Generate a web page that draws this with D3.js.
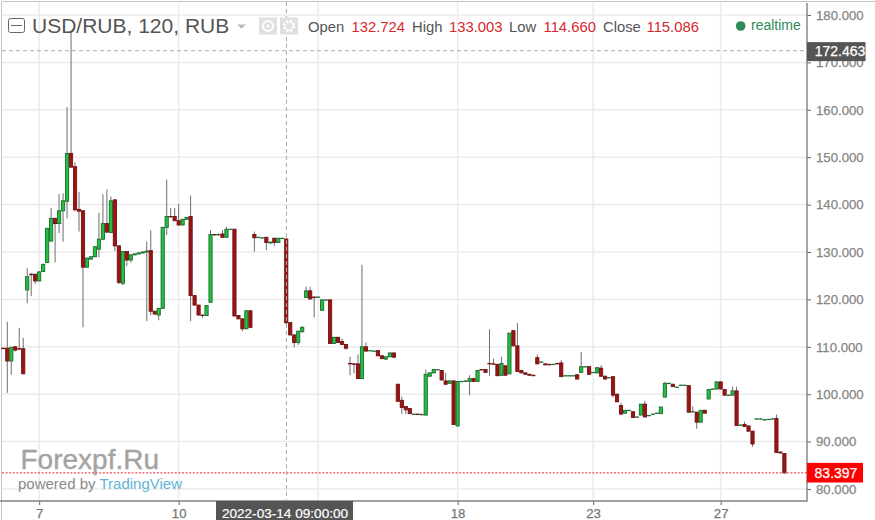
<!DOCTYPE html>
<html><head><meta charset="utf-8">
<script src="https://cdnjs.cloudflare.com/ajax/libs/d3/7.8.5/d3.min.js"></script>
<style>html,body{margin:0;padding:0;background:#fff}svg{display:block}text{font-family:"Liberation Sans",Arial,sans-serif}</style>
</head><body><svg id="c" width="875" height="520"></svg>
<script>
const slots = d3.range(0, 197);
const opens = [109.7,109.7,107,110,109.6,109.6,122,125.3,125.3,123.9,125.9,127.8,132.3,137.1,136,138.7,140.7,150.8,148,139,
138.7,126.8,128.5,129,130.6,132.7,136,134.1,141,131.3,123.4,130.1,128.3,129.4,129.6,129.8,130,130.3,117.5,116.7,
118.1,135.2,137.5,137.5,136.6,135.7,136.9,137.5,120.8,118.8,116.7,116.6,119.4,133.7,133.6,133.8,133.1,134.8,134.8,116.6,
115.9,113.8,117.6,133.7,133.1,133,133.1,131.9,132.9,132,132.9,132.724,115.1,112.5,110.9,113.2,120.4,121.8,120.5,120.5,
117.7,119.9,119.9,110.7,112,111.1,110.5,106.5,106.4,106.4,103.3,110,109.2,109.1,109.2,108.1,107.4,107.9,108.7,102.1,
98.7,97.4,97,95.8,95.8,95.7,95.6,103.8,104.5,105.2,105,102.8,102.3,102.8,93.3,102.7,102.7,102.7,103.3,102.7,
105.2,105.2,106.5,106.4,106.3,104,106,104.3,113.4,110.2,105,104.5,104.2,104,107.7,106.8,106.4,106.3,106.3,106.5,
106.6,103.9,103.9,103.9,104.1,104.6,105.8,105.8,104.6,104.5,105.5,103.8,103.5,103.7,100,97.6,96,96.6,96.3,95.2,
95.6,97.9,95.5,95.8,96,95.9,99.4,102.3,102.1,101.5,101.9,101.9,101.8,96.3,96.2,94.1,96.6,99,101.1,101.1,
102.6,101,99.8,99.8,100.7,93.5,93.6,93.3,92.2,94.8,94.8,94.6,94.7,94.8,94.9,87.8,87.5];
const highs = [109.8,115.3,109.9,110.2,114,111.9,126.6,125.6,125.4,126,127.5,135,139.3,137.2,142.2,142.4,160.6,176.5,148.9,142.7,
138.8,128.8,129.1,131.2,138.3,142.2,143.2,141.7,141.1,131.4,130.2,130.2,129.5,129.7,129.9,130.1,132.2,134.6,117.6,118.2,
135.3,145.3,139.3,139.3,140.1,137,137.4,141.9,120.9,118.9,116.8,118.8,134.6,133.8,133.9,134.6,135.3,134.9,134.9,116.7,
116,117.7,117.7,134.3,133.2,133.1,133.2,132.2,133,133,133,133.003,115.2,112.6,113.4,114.4,122.7,122.7,120.6,120.6,
120,120,120,112.1,112.1,111.7,110.6,107.9,106.6,108.4,127.3,110.9,109.3,109.2,109.3,108.2,108,108.8,108.8,102.2,
99.5,97.5,97.1,95.9,95.9,96,105.2,104.6,105.3,105.3,105.1,104.5,103,103,102.8,102.8,102.9,104,103.4,105,
105.3,105.3,113.7,107.5,106.4,107.9,106.1,112.9,113.5,115,105.1,104.6,104.3,104.1,108.4,106.9,106.5,106.4,106.4,106.6,
107.2,104,104,104,104.2,108.9,105.9,105.9,104.7,105.6,106.1,103.9,103.6,103.8,100.1,98.2,96.1,96.7,96.4,95.3,
97.9,98.6,95.6,95.9,96.1,97.3,102.6,102.4,102.2,101.6,102,102,101.9,97.4,96.3,96.6,96.7,101,101.2,102.6,
102.7,101.1,99.9,101.6,101.6,93.6,94.2,93.4,92.3,94.9,94.9,94.7,94.8,94.9,95.7,87.9,87.6];
const lows = [109.6,100.3,104.1,109,109.4,104.3,119.2,120.7,123.3,123.8,125.8,127.8,132.3,127.8,134,132.2,137.1,147.8,138.6,134.3,
114.1,126.7,128.4,128.9,128.9,132.6,134,134,130.2,123.2,123,127,127.8,129.3,129.5,129.7,115.4,116.7,116.8,115.6,
118,133.6,137.3,136.5,135.6,135.6,136.8,115.4,118.7,116.6,116.1,116.5,119.3,133.5,133.5,133,133,134.7,116.4,115.8,
113.3,113.7,114,130.1,133,132.9,130.4,131.8,131.3,131.9,132.8,114.66,112.4,109.9,110.4,112.9,120.3,119.9,116.2,120.4,
117.6,119.8,110.6,110.6,110.8,110.4,109.4,104,104.4,103.2,103.2,109,109.1,109,108,107.4,107.3,107.8,107.7,98.4,
95.8,95.8,95.8,95.7,95.6,95.6,95.5,103.7,104.4,105.1,102.9,102,102.2,93.5,93.2,102.6,102.6,99.8,102.6,102.6,
105.1,104.5,103.9,106.3,103.8,103.9,103.9,104.2,110.1,104.7,104.4,104.1,103.9,103.8,106.3,106.7,106.1,106.1,106.2,106.3,
103.6,103.8,103.8,103.8,103.1,104.5,105.7,104.1,104.5,104.4,103.7,103.1,103.4,99.3,98.3,95.7,95.9,96.5,95,95.1,
95.5,95.1,95.4,95.7,95.9,95.8,99.3,102.2,101.5,101.4,101.8,101.8,96.1,96.2,92.7,94,95.9,98.9,101,101,
101,99.7,99.7,99.7,93.3,93.4,93.1,92.1,88.9,94.7,94.7,94.5,94.6,94.7,87.6,87.5,83.3];
const closes = [109.6,107,109.9,109.3,109.5,104.3,124.8,125.2,123.9,125.8,127.4,135,137.1,136,138.7,140.8,150.8,147.9,138.9,138.6,
126.8,128.7,129,131.1,132.7,136,134.2,140.8,131.3,123.6,130.1,128.3,129.4,129.6,129.8,130,130.2,117.5,116.9,118.1,
135.2,137.5,137.4,136.6,135.7,136.9,137.3,120.8,118.8,116.7,116.6,118.7,133.7,133.6,133.7,133.1,134.8,134.8,116.5,115.9,
113.8,117.6,114.1,133,133.1,133,132,132.1,132,132.9,132.9,115.086,112.5,110.9,113.3,114.1,121.8,120.1,120.4,120.5,
119.9,119.9,110.7,112,110.9,110.5,109.7,106.4,106.3,103.3,110,109.1,109.2,109.1,108.1,107.5,107.9,108.7,107.8,98.5,
97.2,96.7,95.9,95.8,95.7,95.7,104.2,104.5,105.2,105.2,103,102.1,102.8,93.6,102.7,102.7,102.8,103.3,102.7,105,
105.1,104.6,106.4,106.3,103.9,106.5,104,112.9,110.2,104.8,104.5,104.2,104,103.9,106.4,106.8,106.2,106.2,106.3,106.4,
103.7,103.9,103.9,103.9,103.2,105.8,105.8,104.2,104.6,105.6,103.8,103.2,103.5,99.8,98.4,95.8,96.6,96.6,95.1,95.2,
97.9,95.2,95.5,95.8,96,97.3,102.3,102.3,101.6,101.5,101.9,101.9,96.2,96.3,94.1,96.6,96,101,101.1,102.6,
101.1,99.8,99.8,100.7,93.4,93.5,93.2,92.2,89.5,94.8,94.8,94.6,94.7,94.8,87.7,87.6,83.397];
const priceTicks = [80,90,100,110,120,130,140,150,160,170,180];
const timeSlots = [9,44,79,114,148,180];
const timeLabels = ["7","10","","18","23","27"];
const crosshairSlot = 71, crosshairPrice = 172.463, lastPrice = 83.397;
const crosshairTime = "2022-03-14 09:00:00";
const legendItems = [["Open","132.724"],["High","133.003"],["Low","114.660"],["Close","115.086"]];

const svg = d3.select("#c");
const plotR = 807, plotB = 501;
const x = d3.scaleLinear().domain([0,196]).range([3.3,784.4]);
const y = d3.scaleLinear().domain([80,180]).range([489,15]);
const GREY="#858585";

// frame
svg.append("path").attr("d","M1.5,520V1.5H875").attr("fill","none").attr("stroke","#c4c4c4").attr("stroke-width",1);

// grid
const grid = svg.append("g").attr("stroke","#ebebeb").attr("stroke-width",1.5);
grid.selectAll("line.h").data(priceTicks).join("line").attr("class","h")
  .attr("x1",2).attr("x2",plotR).attr("y1",d=>y(d)).attr("y2",d=>y(d));
grid.selectAll("line.v").data(timeSlots).join("line").attr("class","v")
  .attr("y1",2).attr("y2",plotB).attr("x1",d=>x(d)).attr("x2",d=>x(d));

// axes
const axR = svg.append("g").attr("transform",`translate(${plotR},0)`)
  .call(d3.axisRight(y).tickValues(priceTicks).tickFormat(d3.format(".3f")).tickSize(4).tickPadding(5));
axR.select(".domain").remove();
axR.selectAll("line").attr("stroke","#666");
axR.selectAll("text").attr("font-size",13.2).attr("fill",GREY).attr("stroke",GREY).attr("stroke-width",0.25).attr("font-family","Liberation Sans");
const axB = svg.append("g").attr("transform",`translate(0,${plotB})`)
  .call(d3.axisBottom(x).tickValues(timeSlots).tickFormat((d,i)=>timeLabels[i]).tickSize(4).tickPadding(4));
axB.select(".domain").remove();
axB.selectAll("line").attr("stroke","#666");
axB.selectAll("text").attr("font-size",13.2).attr("fill","#777").attr("stroke","#777").attr("stroke-width",0.25).attr("font-family","Liberation Sans");
svg.append("path").attr("d",`M0,${plotB}H${plotR}V3`).attr("fill","none").attr("stroke","#808080").attr("stroke-width",1.4);

// candles
const candles = slots.map((s,i)=>({s,o:opens[i],h:highs[i],l:lows[i],c:closes[i]}));
const g = svg.append("g");
g.selectAll("line.wick").data(candles).join("line").attr("class","wick")
  .attr("x1",d=>x(d.s)).attr("x2",d=>x(d.s)).attr("y1",d=>y(d.h)).attr("y2",d=>y(d.l))
  .attr("stroke","#6e6e6e").attr("stroke-width",1);
g.selectAll("rect.body").data(candles).join("rect").attr("class","body")
  .attr("x",d=>x(d.s)-1.6).attr("width",3.2)
  .attr("y",d=>Math.min(y(d.o),y(d.c)))
  .attr("height",d=>Math.max(Math.abs(y(d.o)-y(d.c)),0.3))
  .attr("fill",d=>d.c>=d.o?"#21c03f":"#a01212")
  .attr("stroke",d=>d.c>=d.o?"#1c6b30":"#6f1414").attr("stroke-width",0.9);

// price lines
svg.append("line").attr("x1",2).attr("x2",plotR).attr("y1",y(lastPrice)).attr("y2",y(lastPrice))
  .attr("stroke","#e8202c").attr("stroke-width",1).attr("stroke-dasharray","2 1.6");
const ch = svg.append("g").attr("stroke","#a8a8a8").attr("stroke-width",1).attr("stroke-dasharray","4 3");
ch.append("line").attr("x1",2).attr("x2",plotR).attr("y1",y(crosshairPrice)).attr("y2",y(crosshairPrice));
ch.append("line").attr("x1",x(crosshairSlot)+.2).attr("x2",x(crosshairSlot)+.2).attr("y1",2).attr("y2",plotB);

// right labels
svg.append("rect").attr("x",807).attr("y",y(crosshairPrice)-8.6).attr("width",58.5).attr("height",19).attr("fill","#555");
svg.append("text").attr("x",840).attr("y",y(crosshairPrice)+5.4).attr("text-anchor","middle").attr("font-size",14).attr("fill","#fff").attr("stroke","#fff").attr("stroke-width",0.25).text(crosshairPrice.toFixed(3));
svg.append("rect").attr("x",807).attr("y",y(lastPrice)-10).attr("width",56).attr("height",19.6).attr("fill","#ff0000");
svg.append("text").attr("x",836).attr("y",y(lastPrice)+5).attr("text-anchor","middle").attr("font-size",14).attr("fill","#fff").attr("stroke","#fff").attr("stroke-width",0.25).text(lastPrice.toFixed(3));

// crosshair time label
svg.append("rect").attr("x",216).attr("y",plotB).attr("width",137).attr("height",19).attr("fill","#555");
svg.append("text").attr("x",285).attr("y",518).attr("text-anchor","middle").attr("font-size",13.6).attr("fill","#fff").attr("stroke","#fff").attr("stroke-width",0.2).text(crosshairTime);

// header
svg.append("rect").attr("x",8.5).attr("y",18.5).attr("width",16).attr("height",14).attr("rx",2).attr("fill","#fff").attr("stroke","#666").attr("stroke-width",1);
svg.append("line").attr("x1",11).attr("x2",22).attr("y1",25.5).attr("y2",25.5).attr("stroke","#666");
svg.append("text").attr("x",32).attr("y",33).attr("font-size",21).attr("fill","#555").text("USD/RUB, 120, RUB");
svg.append("path").attr("d","M237,24.5H246L241.5,28.8Z").attr("fill","#bbb");
svg.append("rect").attr("x",259).attr("y",17.5).attr("width",18).attr("height",17).attr("fill","#e0e0e0");
svg.append("circle").attr("cx",268).attr("cy",26).attr("r",5).attr("fill","none").attr("stroke","#fff").attr("stroke-width",2);
svg.append("circle").attr("cx",268).attr("cy",26).attr("r",1.6).attr("fill","#fff");
svg.append("rect").attr("x",280).attr("y",17.5).attr("width",18).attr("height",17).attr("fill","#e0e0e0");
svg.append("circle").attr("cx",289).attr("cy",26).attr("r",4.6).attr("fill","none").attr("stroke","#fff").attr("stroke-width",3).attr("stroke-dasharray","2.4 1.2");

const legendX = [[308,351.5],[412,449],[509,543.5],[603,646.5]];
legendItems.forEach(([k,v],i)=>{
  svg.append("text").attr("x",legendX[i][0]).attr("y",32).attr("font-size",14.8).attr("fill","#555").text(k);
  svg.append("text").attr("x",legendX[i][1]).attr("y",32).attr("font-size",14.8).attr("fill","#d9272e").text(v);
});
svg.append("circle").attr("cx",740.7).attr("cy",26).attr("r",4.8).attr("fill","#2e8b57");
svg.append("text").attr("x",751).attr("y",30).attr("font-size",14).attr("fill","#2e8b57").text("realtime");

// watermark
svg.append("text").attr("x",20.5).attr("y",468.5).attr("font-size",28).attr("fill","#a3a3a3").attr("stroke","#a3a3a3").attr("stroke-width",0.4).text("Forexpf.Ru");
const pw = svg.append("text").attr("x",18).attr("y",489).attr("font-size",15).attr("fill","#8a8a8a");
pw.append("tspan").text("powered by ");
pw.append("tspan").attr("fill","#62b3d8").text("TradingView");
</script></body></html>
